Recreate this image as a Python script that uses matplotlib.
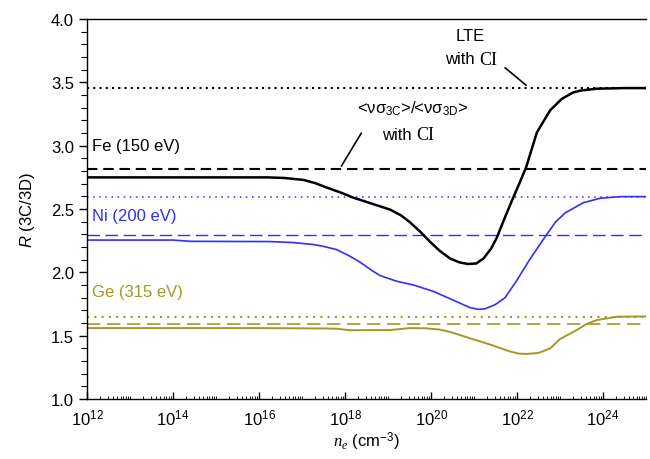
import matplotlib
matplotlib.use("Agg")
import matplotlib.pyplot as plt
import numpy as np
from matplotlib.ticker import FixedLocator, LogLocator, MultipleLocator, NullFormatter

plt.rcParams["font.family"] = ["Liberation Sans", "DejaVu Sans"]
plt.rcParams["mathtext.fontset"] = "custom"
plt.rcParams["mathtext.rm"] = "Liberation Sans"
plt.rcParams["mathtext.it"] = "Liberation Serif:italic"
plt.rcParams["mathtext.sf"] = "Liberation Sans:italic"

BLUE = "#2f2fff"
OLIVE = "#a09a26"

# log10(n_e) and R
fe_log_ne = [12, 14, 16.2, 16.6, 17.03, 17.3, 17.57, 17.9, 18.19, 18.6, 19.05, 19.3,
             19.51, 19.75, 19.98, 20.2, 20.44, 20.65, 20.85, 21.05, 21.22, 21.4, 21.53,
             21.7, 21.91, 22.05, 22.21, 22.46, 22.77, 23.04, 23.3, 23.47, 23.85, 24.5, 25]
fe_r = [2.75, 2.75, 2.75, 2.745, 2.73, 2.705, 2.67, 2.63, 2.59, 2.545, 2.495, 2.45,
        2.395, 2.32, 2.24, 2.17, 2.11, 2.08, 2.066, 2.07, 2.11, 2.19, 2.275,
        2.42, 2.59, 2.70, 2.83, 3.105, 3.28, 3.37, 3.42, 3.435, 3.45, 3.455, 3.455]

ni_log_ne = [12, 14.0, 14.4, 16.26, 16.8, 17.26, 17.5, 17.8, 18.1, 18.35, 18.6, 18.81,
             19.2, 19.59, 20.05, 20.52, 20.9, 21.1, 21.25, 21.49, 21.72, 21.99, 22.3,
             22.69, 22.9, 23.12, 23.54, 23.93, 24.4, 25]
ni_r = [2.255, 2.255, 2.245, 2.243, 2.235, 2.22, 2.205, 2.18, 2.13, 2.08, 2.02, 1.975,
        1.93, 1.90, 1.85, 1.78, 1.722, 1.708, 1.712, 1.745, 1.80, 1.935, 2.105,
        2.30, 2.40, 2.47, 2.55, 2.585, 2.598, 2.598]

ge_log_ne = [12, 14, 16, 17.5, 17.8, 18.12, 19.05, 19.51, 19.9, 20.2, 20.44, 20.9,
             21.37, 21.84, 22.05, 22.23, 22.5, 22.77, 23.0, 23.39, 23.6, 23.86, 24.33, 25]
ge_r = [1.56, 1.56, 1.56, 1.557, 1.555, 1.543, 1.545, 1.56, 1.558, 1.548, 1.53, 1.48,
        1.43, 1.375, 1.358, 1.356, 1.364, 1.40, 1.474, 1.545, 1.59, 1.624, 1.65, 1.652]

# limits: LTE with CI (dotted) and rate ratio with CI (dashed)
lte_levels = {"Fe": 3.455, "Ni": 2.595, "Ge": 1.65}
ci_levels = {"Fe": 2.82, "Ni": 2.295, "Ge": 1.59}

X_MIN, X_MAX = 1e12, 1e25


def label_with_ci(ax, x, y, size=12):
    """'with' in sans followed by a serif 'CI', split at x."""
    ax.text(x, y, "with ", fontsize=size, ha="right", va="center")
    ax.text(x, y - 0.005, "CI", fontsize=size + 1, ha="left", va="center",
            family="Liberation Serif")


def main() -> None:
    fig = plt.figure(figsize=(6.5, 4.6), dpi=100)
    ax = fig.add_axes([0.134, 0.1304, 0.86, 0.826])

    # horizontal limit lines
    ax.axhline(lte_levels["Fe"], color="black", lw=1.5, ls=(0, (1, 2)))
    ax.axhline(ci_levels["Fe"], color="black", lw=1.5, ls=(0, (5, 2.8)))
    ax.axhline(lte_levels["Ni"], color=BLUE, lw=1.1, ls=(0, (1, 3)))
    ax.axhline(ci_levels["Ni"], color=BLUE, lw=1.0, ls=(0, (9, 4)))
    ax.axhline(lte_levels["Ge"], color=OLIVE, lw=1.5, ls=(0, (1, 2.5)))
    ax.axhline(ci_levels["Ge"], color=OLIVE, lw=1.2, ls=(0, (8, 4)))

    ax.plot(10.0 ** np.array(fe_log_ne), fe_r, color="black", lw=1.8)
    ax.plot(10.0 ** np.array(ni_log_ne), ni_r, color=BLUE, lw=1.2)
    ax.plot(10.0 ** np.array(ge_log_ne), ge_r, color=OLIVE, lw=1.4)

    ax.set_xscale("log")
    ax.set_xlim(X_MIN, X_MAX)
    ax.set_ylim(1.0, 4.0)

    ax.xaxis.set_major_locator(FixedLocator([10.0 ** k for k in range(12, 25, 2)]))
    ax.xaxis.set_minor_locator(LogLocator(base=10, subs=np.arange(1, 10), numticks=40))
    ax.xaxis.set_minor_formatter(NullFormatter())
    ax.yaxis.set_major_locator(MultipleLocator(0.5))
    ax.yaxis.set_minor_locator(MultipleLocator(0.1))
    ax.yaxis.set_major_formatter(plt.FuncFormatter(lambda v, _: f"{v:.1f}"))

    ax.tick_params(axis="y", which="major", direction="out", length=6, width=1, labelsize=12)
    ax.tick_params(axis="y", which="minor", direction="out", length=4, width=0.8)
    ax.tick_params(axis="x", which="major", direction="in", length=5, width=1, labelsize=12, pad=6)
    ax.tick_params(axis="x", which="minor", direction="in", length=2, width=0.6)
    for side in ("left", "bottom", "top"):
        ax.spines[side].set_linewidth(1.0)
    ax.spines["right"].set_visible(False)

    ax.set_ylabel(r"$\mathsf{R}$ (3C/3D)", fontsize=12, labelpad=10)
    ax.set_xlabel(r"$n_e$ (cm$^{-3}$)", fontsize=12, labelpad=2)

    # element labels
    ax.text(1.3e12, 3.0, "Fe (150 eV)", color="black", fontsize=12, va="center")
    ax.text(1.3e12, 2.45, "Ni (200 eV)", color=BLUE, fontsize=12, va="center")
    ax.text(1.3e12, 1.85, "Ge (315 eV)", color=OLIVE, fontsize=12, va="center")

    # LTE annotation
    ax.text(10 ** 20.92, 3.87, "LTE", fontsize=12, ha="center", va="center")
    label_with_ci(ax, 10 ** 21.12, 3.685)
    ax.annotate("", xy=(10 ** 22.26, 3.463), xytext=(10 ** 21.67, 3.63),
                arrowprops=dict(arrowstyle="-", color="black", lw=1.2))

    # rate ratio annotation
    ax.text(10 ** 19.58, 3.30, r"<νσ$_{\mathrm{3C}}$>/<νσ$_{\mathrm{3D}}$>", fontsize=12,
            ha="center", va="center")
    label_with_ci(ax, 10 ** 19.65, 3.09)
    ax.annotate("", xy=(10 ** 17.88, ci_levels["Fe"]), xytext=(10 ** 18.41, 3.118),
                arrowprops=dict(arrowstyle="-", color="black", lw=1.2))

    fig.savefig("out.png", dpi=100)
    plt.close(fig)


if __name__ == "__main__":
    main()
